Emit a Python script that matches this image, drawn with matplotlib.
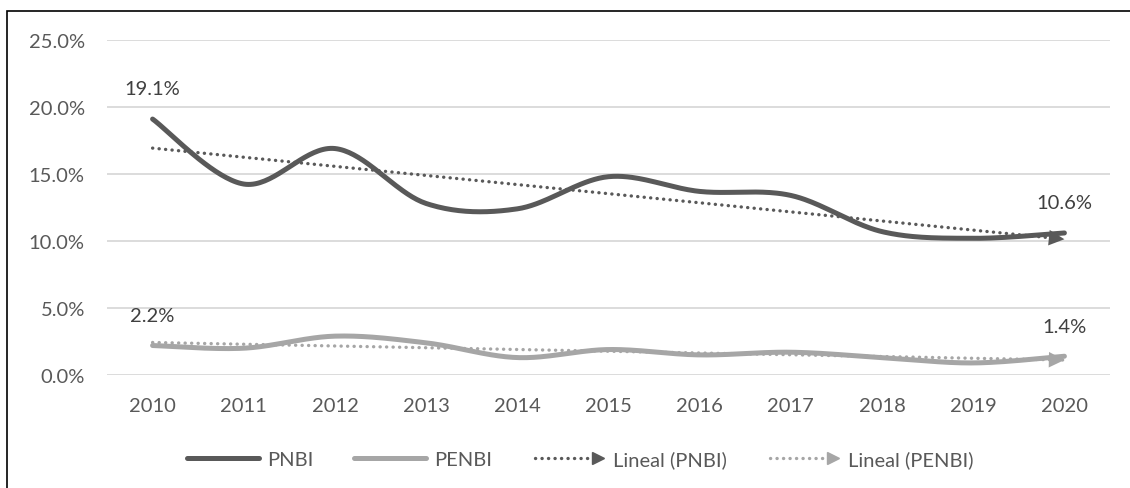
import numpy as np
import matplotlib
matplotlib.use('Agg')
import matplotlib.pyplot as plt
from matplotlib.lines import Line2D
from matplotlib.patches import Rectangle
from matplotlib.legend_handler import HandlerBase
from matplotlib.ticker import FuncFormatter

years = ['2010', '2011', '2012', '2013', '2014', '2015', '2016', '2017', '2018', '2019', '2020']
pnbi = [19.1, 14.25, 16.9, 12.8, 12.4, 14.8, 13.7, 13.4, 10.7, 10.2, 10.6]
penbi = [2.2, 2.0, 2.9, 2.4, 1.3, 1.9, 1.5, 1.7, 1.3, 0.9, 1.4]
yticks = [0, 5, 10, 15, 20, 25]

DARK = '#595959'
LIGHT = '#a6a6a6'
TXT = '#595959'
DOT = (0, (0.05, 1.9))
plt.rcParams['font.family'] = ['Lato', 'DejaVu Sans']


def smooth(y, n=40):
    # bezier smoothing like excel's "smoothed line"
    y = np.asarray(y, float)
    x = np.arange(len(y), dtype=float)
    P = np.column_stack([x, y])
    P = np.vstack([P[0], P, P[-1]])
    t = np.linspace(0, 1, n)[:, None]
    out = []
    for i in range(1, len(P) - 2):
        p0, p1 = P[i], P[i + 1]
        c1 = p0 + (P[i + 1] - P[i - 1]) / 6
        c2 = p1 - (P[i + 2] - P[i]) / 6
        seg = (1 - t)**3 * p0 + 3 * (1 - t)**2 * t * c1 + 3 * (1 - t) * t**2 * c2 + t**3 * p1
        out.append(seg if i == 1 else seg[1:])
    out = np.vstack(out)
    return out[:, 0], out[:, 1]


class ArrowHandler(HandlerBase):
    def create_artists(self, legend, orig, xd, yd, w, h, fontsize, trans):
        c = orig.get_color()
        y = h / 2 - yd
        ln = Line2D([-xd + 2, -xd + w * 0.84], [y, y], color=c, ls=DOT, lw=2.4,
                    dash_capstyle='round')
        mk = Line2D([-xd + w * 0.9], [y], marker='>', color=c, markersize=8, ls='none')
        ln.set_transform(trans)
        mk.set_transform(trans)
        return [ln, mk]


fig = plt.figure(figsize=(11.3, 4.89), dpi=100)
fig.patches.append(Rectangle((7 / 1130, -0.1), 1.2, 1 - 12 / 489 + 0.1, transform=fig.transFigure,
                             fill=False, ec='black', lw=1.2))
ax = fig.add_axes([107 / 1130, 1 - 376 / 489, (1110 - 107) / 1130, (376 - 41) / 489])

x = np.arange(len(years))
h1, = ax.plot(*smooth(pnbi), color=DARK, lw=3.6, solid_capstyle='round', label='PNBI', zorder=3)
h2, = ax.plot(*smooth(penbi), color=LIGHT, lw=3.6, solid_capstyle='round', label='PENBI', zorder=3)

handles = [h1, h2]
for vals, c, name in [(pnbi, DARK, 'Lineal (PNBI)'), (penbi, LIGHT, 'Lineal (PENBI)')]:
    k, b = np.polyfit(x, vals, 1)
    fit = k * x + b
    ln, = ax.plot(x, fit, color=c, ls=DOT, lw=2.4, dash_capstyle='round', label=name, zorder=4)
    ax.annotate('', xy=(x[-1], fit[-1]), xytext=(x[-1] - 0.3, fit[-1] - 0.3 * k),
                arrowprops=dict(arrowstyle='-|>,head_length=0.8,head_width=0.4', color=c, lw=0,
                                mutation_scale=14, shrinkA=0, shrinkB=0), zorder=4)
    handles.append(ln)

for i, v in [(0, pnbi[0]), (10, pnbi[-1]), (0, penbi[0]), (10, penbi[-1])]:
    ax.text(x[i], v + 2.25, f'{v:.1f}%', ha='center', va='center',
            fontsize=14.5, color='#404040')

ax.set_xlim(-0.5, 10.5)
ax.set_ylim(0, 25)
ax.set_xticks(x)
ax.set_xticklabels(years)
ax.set_yticks(yticks)
ax.yaxis.set_major_formatter(FuncFormatter(lambda v, p: f'{v:.1f}%'))
ax.grid(axis='y', color='#d9d9d9', lw=1.3)
ax.set_axisbelow(True)
for s in ax.spines.values():
    s.set_visible(False)
ax.tick_params(length=0, labelsize=14.5, labelcolor=TXT, pad=16)

amap = {handles[2]: ArrowHandler(), handles[3]: ArrowHandler()}
ax.legend(handles=handles, labels=[h.get_label() for h in handles], handler_map=amap,
          loc='center', bbox_to_anchor=(580 / 1130, 1 - 460 / 489), bbox_transform=fig.transFigure,
          ncol=4, frameon=False, fontsize=14.5, labelcolor=TXT, handlelength=3.6,
          handletextpad=0.4, columnspacing=2.0)

fig.savefig('out.png', dpi=100)
